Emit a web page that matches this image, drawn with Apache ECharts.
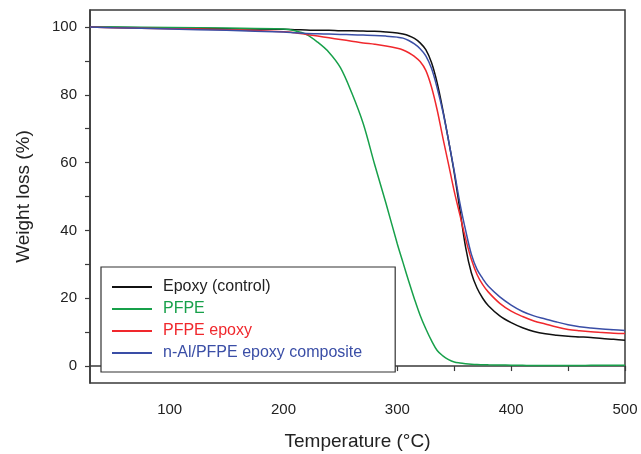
<!DOCTYPE html>
<html>
<head>
<meta charset="utf-8">
<script src="https://cdn.jsdelivr.net/npm/echarts@6/dist/echarts.min.js"></script>
<style>
html,body{margin:0;padding:0;background:#fff;}
#chart{width:641px;height:454px;}
</style>
</head>
<body>
<div id="chart"></div>
<script>
// Temperature grid (°C)
const temperature = [30, 50, 100, 150, 200, 210, 220, 230, 240, 250, 260, 270, 280, 290, 300, 305, 310, 315, 320, 325, 330, 335, 340, 345, 350, 355, 360, 365, 370, 375, 380, 390, 400, 410, 420, 430, 440, 450, 460, 470, 480, 490, 500];

// Weight (%) per series
const epoxyControl = [100, 99.9, 99.7, 99.5, 99.3, 99.2, 99.1, 99.0, 99.0, 98.9, 98.9, 98.8, 98.7, 98.5, 98.2, 97.9, 97.4, 96.6, 95.3, 93.3, 89.5, 83.5, 75.5, 66.5, 57, 46, 35, 27.5, 23, 20, 17.8, 14.8, 12.8, 11.3, 10.2, 9.5, 9.1, 8.8, 8.6, 8.4, 8.1, 7.9, 7.6];
const pfpe = [100, 99.95, 99.85, 99.7, 99.4, 98.9, 97.8, 95.5, 92.5, 88, 80.5, 71.5, 59.5, 48, 36, 30.5, 25, 19.8, 15, 11, 7.5, 4.6, 3.0, 1.9, 1.2, 0.9, 0.7, 0.55, 0.45, 0.4, 0.35, 0.3, 0.25, 0.2, 0.15, 0.15, 0.15, 0.15, 0.18, 0.2, 0.2, 0.2, 0.2];
const pfpeEpoxy = [100, 99.8, 99.5, 99.2, 98.6, 98.3, 97.8, 97.3, 96.8, 96.3, 95.8, 95.3, 94.9, 94.4, 93.7, 93.2, 92.4, 91.3, 89.8, 87.2, 82.3, 75.5, 67.3, 59.5, 51.5, 44.5, 37.5, 31.5, 27, 24, 21.8, 18.5, 16.2, 14.6, 13.3, 12.4, 11.5, 10.8, 10.4, 10.1, 9.9, 9.7, 9.6];
const nAlComposite = [100, 99.8, 99.4, 99.0, 98.5, 98.3, 98.1, 98.0, 97.9, 97.8, 97.7, 97.6, 97.5, 97.3, 97.0, 96.7, 96.0, 95.0, 93.6, 91.5, 87.8, 82, 75, 66.5, 57.5, 48, 40, 33, 28.5, 25.8, 23.5, 20.4, 18.0, 16.1, 14.8, 13.9, 13.0, 12.2, 11.6, 11.2, 10.9, 10.7, 10.5];

const seriesNames = ['Epoxy (control)', 'PFPE', 'PFPE epoxy', 'n-Al/PFPE epoxy composite'];
const seriesValues = [epoxyControl, pfpe, pfpeEpoxy, nAlComposite];
const seriesColors = ['#111111', '#17a04a', '#f0282d', '#3a4ea6'];

const xTickValues = [50, 100, 150, 200, 250, 300, 350, 400, 450, 500];
const xLabelValues = [100, 200, 300, 400, 500];
const yTickValues = [0, 10, 20, 30, 40, 50, 60, 70, 80, 90, 100];
const yLabelValues = [0, 20, 40, 60, 80, 100];

const FONT = '"Liberation Sans", Arial, sans-serif';
const chart = echarts.init(document.getElementById('chart'), null, {renderer: 'canvas'});

chart.setOption({
  animation: false,
  backgroundColor: '#fff',
  grid: {
    left: 90, top: 10, right: 16, bottom: 71,
    outerBoundsMode: 'none', containLabel: false,
    show: true, borderColor: '#3a3a3a', borderWidth: 1.5, backgroundColor: 'transparent'
  },
  legend: {
    left: 101, top: 267,
    orient: 'vertical',
    padding: [12, 33, 11, 11],
    itemWidth: 40, itemHeight: 2, itemGap: 6,
    icon: 'rect',
    borderColor: '#333', borderWidth: 1.2, backgroundColor: '#fff',
    textStyle: {fontFamily: FONT, fontSize: 16, lineHeight: 16, padding: [0, 0, 0, 6]},
    data: seriesNames.map((n, i) => ({name: n, textStyle: {color: i === 0 ? '#222' : seriesColors[i]}}))
  },
  xAxis: {
    type: 'value', min: 30, max: 500,
    name: 'Temperature (°C)', nameLocation: 'middle', nameGap: 49,
    nameTextStyle: {fontFamily: FONT, fontSize: 19, color: '#222'},
    axisLine: {show: true, lineStyle: {color: '#3a3a3a', width: 1.5}},
    axisTick: {show: true, inside: false, length: 5, customValues: xTickValues, lineStyle: {color: '#3a3a3a', width: 1.2}},
    axisLabel: {customValues: xLabelValues, fontFamily: FONT, fontSize: 15, color: '#222', margin: 19},
    splitLine: {show: false}
  },
  yAxis: {
    type: 'value', min: -5, max: 105,
    name: 'Weight loss (%)', nameLocation: 'middle', nameGap: 57, nameRotate: 90,
    nameTextStyle: {fontFamily: FONT, fontSize: 19, color: '#222'},
    axisLine: {show: true, lineStyle: {color: '#3a3a3a', width: 1.5}},
    axisTick: {show: true, inside: false, length: 5, customValues: yTickValues, lineStyle: {color: '#3a3a3a', width: 1.2}},
    axisLabel: {customValues: yLabelValues, fontFamily: FONT, fontSize: 15, color: '#222', margin: 13},
    splitLine: {show: false}
  },
  series: seriesNames.map((n, i) => ({
    name: n,
    type: 'line',
    data: temperature.map((t, k) => [t, seriesValues[i][k]]),
    smooth: 0.35,
    symbol: 'none',
    lineStyle: {color: seriesColors[i], width: 1.5},
    itemStyle: {color: seriesColors[i]}
  }))
});
</script>
</body>
</html>
